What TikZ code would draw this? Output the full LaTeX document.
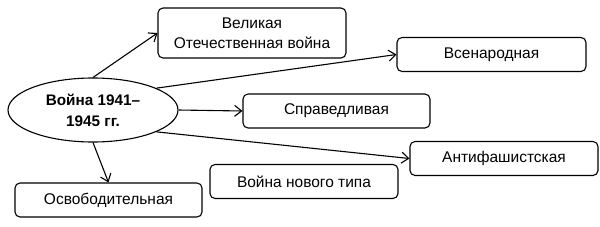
\documentclass[tikz,border=0pt]{standalone}
\usepackage{fontspec}
\setmainfont{Liberation Sans}
\usetikzlibrary{arrows.meta,shapes.geometric}
\begin{document}
\begin{tikzpicture}[x=1pt,y=-1pt,
  box/.style={draw, line width=1.1pt, rounded corners=5pt, minimum height=#1, inner sep=0pt, font=\fontsize{15.5}{20}\selectfont, align=center},
  box/.default=34pt,
  oval/.style={draw, ellipse, line width=1.1pt, inner sep=0pt, minimum width=170pt, minimum height=64pt, font=\bfseries\fontsize{15.3}{21}\selectfont, align=center},
  conn/.style={line width=1.1pt, -{Straight Barb[length=7pt,width=11pt,line width=1.1pt]}}]
\useasboundingbox (0,0) rectangle (600,226);
\node[oval] (war) at (93,110) {Война 1941–\\1945 гг.};
\node[box=50pt, minimum width=188pt] (vel) at (252,33) {Великая\\Отечественная война};
\node[box, minimum width=189pt] (vsen) at (491.5,54.5) {Всенародная};
\node[box, minimum width=187pt] (spr) at (336.5,111) {Справедливая};
\node[box, minimum width=188pt] (anti) at (504,158.5) {Антифашистская};
\node[box, minimum width=188pt] (nov) at (304,181.5) {Война нового типа};
\node[box, minimum width=187pt] (osv) at (108.5,200) {Освободительная};
\draw[conn] (war.north) -- (vel.west);
\draw[conn] (war.19.5) -- (vsen.west);
\draw[conn] (war.east) -- (spr.west);
\draw[conn] (war.-19.5) -- (anti.west);
\draw[conn] (war.south) -- (osv.north);
\end{tikzpicture}
\end{document}
